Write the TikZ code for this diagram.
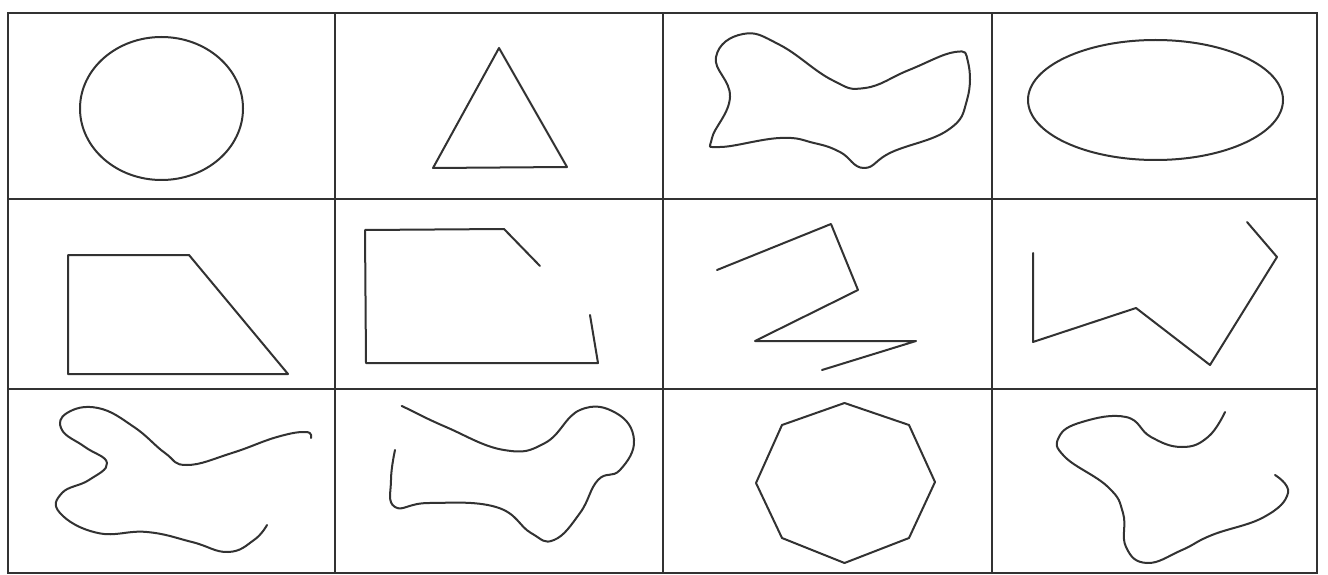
\documentclass[tikz,border=0pt]{standalone}
\usepackage{tikz}
\usetikzlibrary{calc}
\definecolor{pencil}{RGB}{50, 50, 50}

\begin{document}
\begin{tikzpicture}[x=1pt, y=-1pt,
    gridline/.style={draw=pencil, line width=2.4pt},
    figline/.style={draw=pencil, line width=2pt, line join=round, line cap=round}]
    \useasboundingbox[fill=white] (0,0) rectangle (1328,575);

    % Table
    \draw[gridline] (8,13) rectangle (1317,573);
    \foreach \gx in {335, 663, 992}
        \draw[gridline] (\gx,13) -- (\gx,573);
    \foreach \gy in {199, 389}
        \draw[gridline] (8,\gy) -- (1317,\gy);

    % Row 1
    \draw[figline] (161.5,108.5) ellipse [x radius=81.5pt, y radius=71.5pt];
    \draw[figline] (499,48) -- (567,167) -- (433,168) -- cycle;
    \draw[figline] plot[smooth cycle, tension=0.75] coordinates {
        (743,34) (780,45) (832,80) (865,88) (909,70) (955,52) (968,62)
        (967,100) (948,130) (892,152) (864,168) (840,152) (814,143)
        (780,138) (720,147) (712,138) (730,97) (716,57)};
    \draw[figline] (1155.5,100) ellipse [x radius=127.5pt, y radius=60pt];

    % Row 2
    \draw[figline] (68,255) -- (189,255) -- (288,374) -- (68,374) -- cycle;
    \draw[figline] (540,266) -- (504,229) -- (365,230) -- (366,363)
        -- (598,363) -- (590,315);
    \draw[figline] (717,270) -- (831,224) -- (858,290) -- (755,341)
        -- (916,341) -- (822,370);
    \draw[figline] (1033,253) -- (1033,342) -- (1136,308) -- (1210,365)
        -- (1277,257) -- (1247,222);

    % Row 3
    \draw[figline] plot[smooth, tension=0.75] coordinates {
        (311,438) (306,432) (277,437) (232,453) (187,465) (165,453)
        (134,427) (98,408) (67,413) (62,430) (85,447) (107,463) (89,480)
        (62,493) (60,513) (98,533) (147,532) (192,542) (228,552)
        (254,540) (267,525)};
    \draw[figline] plot[smooth, tension=0.75] coordinates {
        (404,407) (406,408) (446,427) (504,450) (545,443) (580,410)
        (616,413) (634,440) (620,470) (598,480) (580,513) (554,540)
        (531,533) (496,507) (429,503) (395,507) (391,480) (395,450)};
    \draw[figline] (844.5,403) -- (909,425) -- (935,482) -- (909,538)
        -- (844.5,563) -- (782,538) -- (756,483) -- (782,425) -- cycle;
    \draw[figline] plot[smooth, tension=0.75] coordinates {
        (1225,412) (1208,437) (1182,447) (1151,437) (1126,417) (1082,422)
        (1059,437) (1065,457) (1108,487) (1123,513) (1126,547) (1147,563)
        (1182,550) (1212,535) (1264,517) (1288,493) (1275,475)};
\end{tikzpicture}
\end{document}
